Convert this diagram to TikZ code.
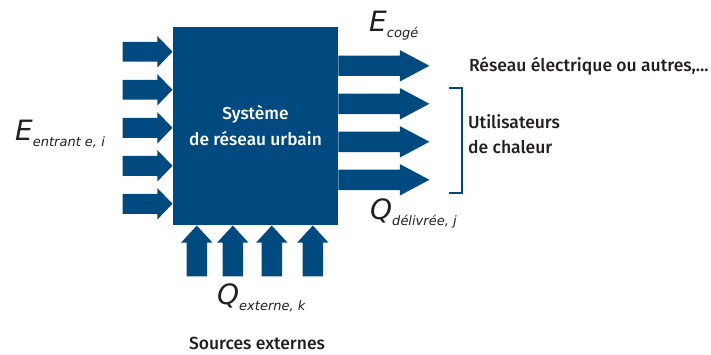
\documentclass[tikz,border=0pt]{standalone}
\usepackage{fontspec}
\setmainfont{Fira Sans Medium}
\newfontfamily\fluxfont{DejaVu Sans}
\usepackage{tikz}
\usetikzlibrary{arrows,shapes,positioning}
\definecolor{rublue}{RGB}{0,74,128}
\definecolor{rutext}{RGB}{35,31,32}
\tikzstyle{system} = [rectangle, minimum width=165pt, minimum height=198pt, fill=rublue, text=white, align=center, font=\fontsize{17.3}{26}\selectfont]
\tikzstyle{inarrow} = [single arrow, fill=rublue, inner xsep=0pt, inner ysep=9.75pt, minimum height=50pt, single arrow head extend=5.75pt, single arrow tip angle=92, anchor=tip]
\tikzstyle{outarrow} = [single arrow, fill=rublue, inner xsep=0pt, inner ysep=10pt, minimum height=91pt, single arrow head extend=5.5pt, single arrow tip angle=56, anchor=tail]
\tikzstyle{uparrow} = [single arrow, fill=rublue, inner xsep=0pt, inner ysep=10pt, minimum height=51pt, single arrow head extend=5.5pt, single arrow tip angle=85, rotate=90, anchor=tip]
\tikzstyle{textlabel} = [inner sep=0pt, text=rutext, font=\fontsize{17.5}{25}\selectfont]
\tikzstyle{fluxlabel} = [inner sep=0pt, text=rutext, anchor=base west, font=\fluxfont]
\tikzstyle{bracket} = [draw=rublue, line width=1.6pt]
\newcommand{\fluxtext}[2]{{\fontsize{28}{28}\selectfont\itshape #1}\raisebox{-6pt}{\fontsize{13}{13}\selectfont\itshape #2}}

\begin{document}
\begin{tikzpicture}[x=1pt, y=1pt, node distance=39pt]
\useasboundingbox (0,0) rectangle (711,354);
\node[system] (sys) at (255.5,228) {Système\\de réseau urbain};
\node[inarrow] (in1) at ([yshift=-25pt]sys.north west) {};
\node[inarrow] (in2) at ([yshift=-63pt]sys.north west) {};
\node[inarrow] (in3) at ([yshift=-101pt]sys.north west) {};
\node[inarrow] (in4) at ([yshift=-139pt]sys.north west) {};
\node[inarrow] (in5) at ([yshift=-177pt]sys.north west) {};
\node[outarrow] (out1) at ([yshift=-39pt]sys.north east) {};
\node[outarrow] (out2) at ([yshift=-77pt]sys.north east) {};
\node[outarrow] (out3) at ([yshift=-115pt]sys.north east) {};
\node[outarrow] (out4) at ([yshift=-153pt]sys.north east) {};
\node[uparrow] (up1) at ([xshift=24pt]sys.south west) {};
\node[uparrow] (up2) at ([xshift=60pt]sys.south west) {};
\node[uparrow] (up3) at ([xshift=99pt]sys.south west) {};
\node[uparrow] (up4) at ([xshift=140pt]sys.south west) {};
\node[fluxlabel] (eentrant) at (15,214) {\fluxtext{E}{entrant e, i}};
\node[fluxlabel] (ecoge) at (369,322) {\fluxtext{E}{cogé}};
\node[fluxlabel] (qdelivree) at (370,135) {\fluxtext{Q}{délivrée, j}};
\node[fluxlabel] (qexterne) at (217,50) {\fluxtext{Q}{externe, k}};
\node[textlabel, right=of out1.tip] (reseau) {Réseau électrique ou autres,...};
\coordinate (btop) at ([xshift=19pt,yshift=16pt]out2.tip);
\coordinate (bbot) at ([xshift=19pt,yshift=-13pt]out4.tip);
\draw[bracket] (btop) -- ++(13,0) |- (bbot);
\node[textlabel, align=left, anchor=west] (users) at (468,219.5) {Utilisateurs\\de chaleur};
\node[textlabel] (sources) at (257,11) {Sources externes};
\end{tikzpicture}
\end{document}
